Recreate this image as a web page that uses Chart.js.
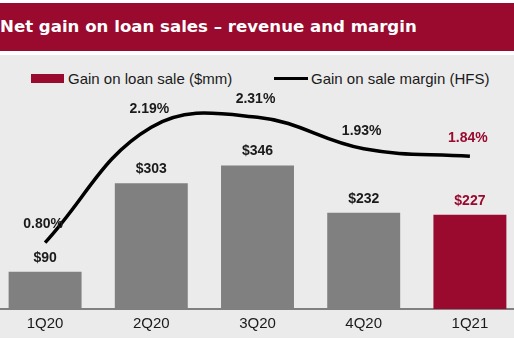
<!DOCTYPE html>
<html>
<head>
<meta charset="utf-8">
<script src="https://cdn.jsdelivr.net/npm/chart.js@4"></script>
<style>
  html, body { margin: 0; padding: 0; width: 514px; height: 341px; overflow: hidden; background: #fff; }
  #bg { position: absolute; left: 0; top: 55px; width: 514px; height: 283px; background: #ebebeb; }
  #title { position: absolute; left: 0; top: 3px; width: 514px; height: 48px; background: #990a2e;
    color: #fff; font: bold 16.6px "DejaVu Sans", sans-serif; line-height: 48px; white-space: nowrap; }
  .leg { position: absolute; top: 68px; font: 15px "Liberation Sans", Arial, sans-serif; color: #1a1a1a; white-space: nowrap; }
  .leg span { display: inline-block; vertical-align: middle; }
  #wrap { position: absolute; left: -8px; top: 0; width: 531px; height: 339px; }
</style>
</head>
<body>
<div id="bg"></div>
<div id="title">Net gain on loan sales – revenue and margin</div>
<div class="leg" style="left:31px"><span style="width:33px;height:9px;background:#990a2e;margin-right:4px"></span><span>Gain on loan sale ($mm)</span></div>
<div class="leg" style="left:274px"><span style="width:34px;height:3px;background:#000;margin-right:3px"></span><span>Gain on sale margin (HFS)</span></div>
<div id="wrap"><canvas id="chart" width="531" height="339"></canvas></div>
<script>
// Chart data
const quarters = ["1Q20", "2Q20", "3Q20", "4Q20", "1Q21"];
const gainOnSale = [90, 303, 346, 232, 227];          // $mm
const saleMargin = [0.80, 2.19, 2.31, 1.93, 1.84];     // %
const barLabels = ["$90", "$303", "$346", "$232", "$227"];
const marginLabels = ["0.80%", "2.19%", "2.31%", "1.93%", "1.84%"];

const RED = "#990a2e";
const barColors = quarters.map((q, i) => i === quarters.length - 1 ? RED : "#808080");

// Value labels above bars and line points
const valueLabels = {
    id: "valueLabels",
    afterDatasetsDraw(chart) {
        const ctx = chart.ctx;
        ctx.save();
        ctx.font = "bold 14px 'Liberation Sans', Arial, sans-serif";
        ctx.textAlign = "center";
        ctx.textBaseline = "middle";
        chart.getDatasetMeta(0).data.forEach((el, i) => {
            ctx.fillStyle = i === quarters.length - 1 ? RED : "#1a1a1a";
            ctx.fillText(barLabels[i], el.x, el.y - 14);
        });
        chart.getDatasetMeta(1).data.forEach((el, i) => {
            ctx.fillStyle = i === quarters.length - 1 ? RED : "#1a1a1a";
            ctx.fillText(marginLabels[i], el.x - 2, el.y - 18);
        });
        ctx.restore();
    }
};

new Chart(document.getElementById("chart"), {
    data: {
        labels: quarters,
        datasets: [
            {
                type: "bar",
                data: gainOnSale,
                backgroundColor: barColors,
                borderWidth: 0,
                yAxisID: "y",
                order: 2,
            },
            {
                type: "line",
                data: saleMargin,
                borderColor: "#000",
                borderWidth: 3.5,
                pointRadius: 0,
                tension: 0.4,
                yAxisID: "y1",
                order: 1,
            },
        ],
    },
    options: {
        responsive: false,
        animation: false,
        events: [],
        layout: { padding: { top: 60, bottom: 0, left: 0, right: 0 } },
        datasets: { bar: { barPercentage: 1, categoryPercentage: 0.687 } },
        plugins: { legend: { display: false }, tooltip: { enabled: false } },
        scales: {
            x: {
                grid: { display: false, drawTicks: false },
                border: { display: true, color: "#808080", width: 2 },
                ticks: { color: "#1a1a1a", padding: 6, font: { family: "'Liberation Sans', Arial", size: 15 } },
            },
            y: { display: false, min: 0, max: 600 },
            y1: { display: false, min: 0, max: 3.0 },
        },
    },
    plugins: [valueLabels],
});
</script>
</body>
</html>
